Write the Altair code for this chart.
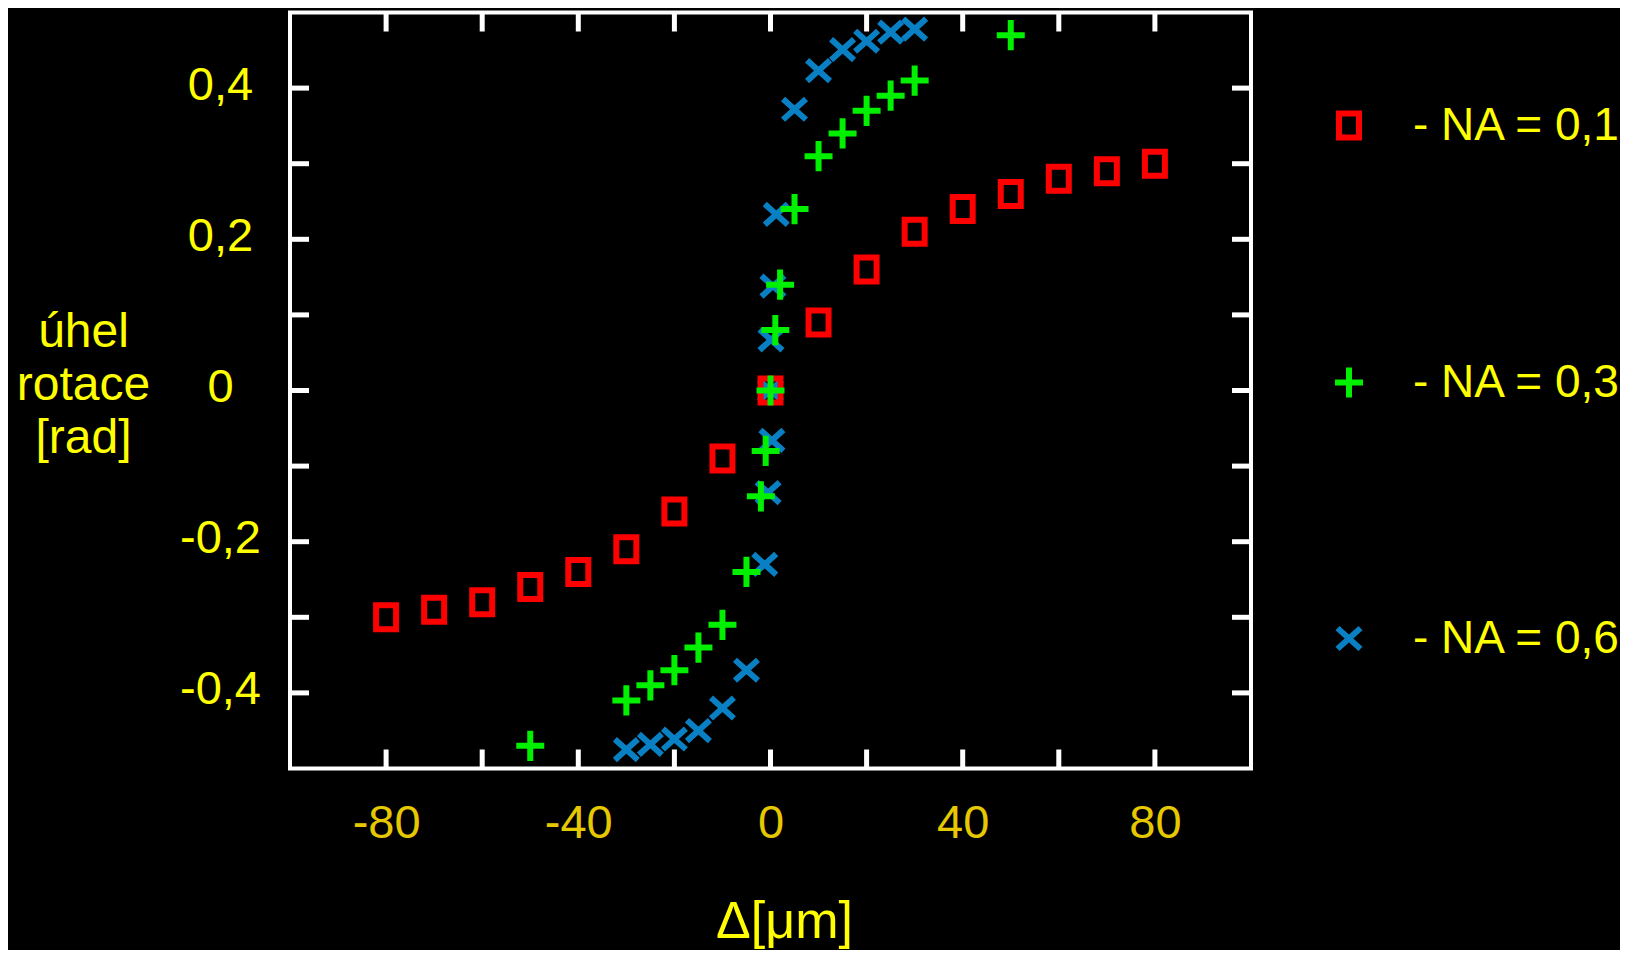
import altair as alt
import pandas as pd

# ---- data ----
SERIES = ["- NA = 0,1", "- NA = 0,3", "- NA = 0,6"]

X_NA01 = [-80, -70, -60, -50, -40, -30, -20, -10, 0, 10, 20, 30, 40, 50, 60, 70, 80]
Y_NA01 = [-0.30, -0.29, -0.28, -0.26, -0.24, -0.21, -0.16, -0.09, 0.0,
          0.09, 0.16, 0.21, 0.24, 0.26, 0.28, 0.29, 0.30]

X_NA03 = [-50, -30, -25, -20, -15, -10, -5, -2, -1, 0, 1, 2, 5, 10, 15, 20, 25, 30, 50]
Y_NA03 = [-0.47, -0.41, -0.39, -0.37, -0.34, -0.31, -0.24, -0.14, -0.08, 0.0,
          0.08, 0.14, 0.24, 0.31, 0.34, 0.37, 0.39, 0.41, 0.47]

X_NA06 = [-30, -25, -20, -15, -10, -5, -1.2, -0.5, 0.3, 0, 0.1, 0.5, 1.2, 5, 10, 15, 20, 25, 30]
Y_NA06 = [-0.475, -0.468, -0.461, -0.45, -0.42, -0.37, -0.23, -0.135, -0.066, 0.0,
          0.067, 0.138, 0.233, 0.372, 0.423, 0.451, 0.462, 0.474, 0.478]

X_TICKS = [-80, -60, -40, -20, 0, 20, 40, 60, 80]
X_LABEL_VALUES = [-80, -40, 0, 40, 80]
X_LABELS = ["-80", "-40", "0", "40", "80"]
Y_TICKS = [-0.4, -0.3, -0.2, -0.1, 0.0, 0.1, 0.2, 0.3, 0.4]
Y_LABEL_VALUES = [-0.4, -0.2, 0.0, 0.2, 0.4]
Y_LABELS = ["-0,4", "-0,2", "0", "0,2", "0,4"]

X_TITLE = "Δ[μm]"
Y_TITLE = ["úhel", "rotace", "[rad]"]

# ---- styling ----
COLORS = ["#FF0000", "#00F000", "#0A80C4"]
SHAPES = [
    "M-0.714,-0.857H0.714V0.857H-0.714Z",                   # open square
    "M-1,0H1M0,-1.08V1.08",                                 # plus
    "M-0.82,-0.74L0.82,0.74M-0.82,0.74L0.82,-0.74",         # x
]
W, H = 961, 756
TICK = 19
FONT = "Liberation Sans"
YELLOW = "#FFFF00"
GOLD = "#E6C800"


def label_expr(values, labels):
    expr = "''"
    for v, l in reversed(list(zip(values, labels))):
        expr = f"abs(datum.value - ({v})) < 1e-9 ? '{l}' : ({expr})"
    return expr


# drawing order: NA=0,6 behind, then NA=0,1, then NA=0,3 on top
rows = []
for xs, ys, s in [(X_NA06, Y_NA06, SERIES[2]), (X_NA01, Y_NA01, SERIES[0]), (X_NA03, Y_NA03, SERIES[1])]:
    for xv, yv in zip(xs, ys):
        rows.append({"x": xv, "y": yv, "series": s})
df = pd.DataFrame(rows)

xt = pd.DataFrame({"x": X_TICKS})
yt = pd.DataFrame({"y": Y_TICKS})

xscale = alt.Scale(domain=[-100, 100], nice=False, zero=False)
yscale = alt.Scale(domain=[-0.5, 0.5], nice=False, zero=False)

xaxis = alt.Axis(
    values=X_LABEL_VALUES, labelExpr=label_expr(X_LABEL_VALUES, X_LABELS),
    ticks=False, tickSize=0, domain=False, grid=False,
    labelPadding=32, labelFont=FONT, labelFontSize=47, labelColor=GOLD,
    title=X_TITLE, titleFont=FONT, titleFontSize=52, titleFontWeight="normal",
    titleColor=YELLOW, titleX=494, titleY=169, titleAlign="center",
    titleBaseline="alphabetic", labelFlush=False,
)
yaxis = alt.Axis(
    values=Y_LABEL_VALUES, labelExpr=label_expr(Y_LABEL_VALUES, Y_LABELS),
    ticks=False, tickSize=0, domain=False, grid=False,
    labelPadding=70, labelAlign="center", labelBaseline="middle", labelOffset=-3,
    labelFont=FONT, labelFontSize=47, labelColor=YELLOW, labelFlush=False,
    title=Y_TITLE, titleFont=FONT, titleFontSize=48, titleFontWeight="normal",
    titleColor=YELLOW, titleAngle=0, titleX=-207, titleY=320, titleAlign="center",
    titleBaseline="middle", titleLineHeight=53,
)

legend = alt.Legend(
    orient="none", legendX=1036, legendY=90, title=None, direction="vertical",
    labelFont=FONT, labelFontSize=46, labelColor=YELLOW, labelLimit=500,
    symbolSize=784, symbolStrokeWidth=6, labelOffset=41, rowPadding=205, padding=0,
)

points = alt.Chart(df).mark_point(filled=False, size=784, strokeWidth=6, opacity=1).encode(
    x=alt.X("x:Q", scale=xscale, axis=xaxis),
    y=alt.Y("y:Q", scale=yscale, axis=yaxis),
    color=alt.Color("series:N", scale=alt.Scale(domain=SERIES, range=COLORS), legend=legend),
    shape=alt.Shape("series:N", scale=alt.Scale(domain=SERIES, range=SHAPES), legend=legend),
)

rule_style = dict(color="white", strokeWidth=5)
x_bottom = alt.Chart(xt).mark_rule(**rule_style).encode(
    x=alt.X("x:Q", scale=xscale, axis=xaxis), y=alt.value(H), y2=alt.value(H - TICK))
x_top = alt.Chart(xt).mark_rule(**rule_style).encode(
    x=alt.X("x:Q", scale=xscale, axis=xaxis), y=alt.value(0), y2=alt.value(TICK))
y_left = alt.Chart(yt).mark_rule(**rule_style).encode(
    y=alt.Y("y:Q", scale=yscale, axis=yaxis), x=alt.value(0), x2=alt.value(TICK))
y_right = alt.Chart(yt).mark_rule(**rule_style).encode(
    y=alt.Y("y:Q", scale=yscale, axis=yaxis), x=alt.value(W), x2=alt.value(W - TICK))

chart = alt.layer(x_bottom, x_top, y_left, y_right, points).properties(
    width=W, height=H,
    padding={"left": 282, "top": 4.5, "right": 369, "bottom": 181},
    autosize=alt.AutoSizeParams(type="none"),
).configure(background="black").configure_view(stroke="white", strokeWidth=4)

chart.save("out.html", embed_options={"renderer": "svg", "actions": False})
